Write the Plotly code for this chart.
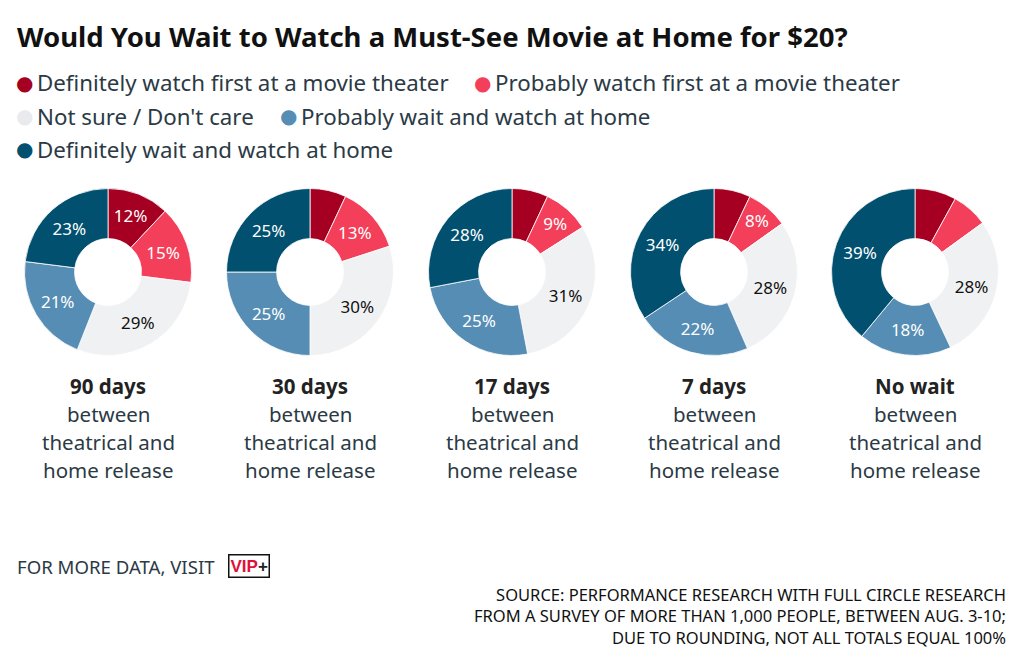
import plotly.graph_objects as go

# the page adds an 8px body margin; the figure is sized to fill the rest of the window
OFF = 8
W, H = 1016, 654
FONT = "Noto Sans"
TXT = "#2b3a45"

title = "Would You Wait to Watch a Must-See Movie at Home for $20?"
categories = ["Definitely watch first at a movie theater",
              "Probably watch first at a movie theater",
              "Not sure / Don't care",
              "Probably wait and watch at home",
              "Definitely wait and watch at home"]
colors = ["#a50022", "#f43f5a", "#f0f1f3", "#568db4", "#02506f"]
text_colors = ["white", "white", "#111111", "white", "white"]

groups = ["90 days", "30 days", "17 days", "7 days", "No wait"]
sub_lines = ["between", "theatrical and", "home release"]
v90 = [12, 15, 29, 21, 23]
v30 = [7, 13, 30, 25, 25]
v17 = [7, 9, 31, 25, 28]
v7 = [7, 8, 28, 22, 34]
v0 = [8, 7, 28, 18, 39]
values = [v90, v30, v17, v7, v0]
# which slices carry a printed label
shown = [[1, 1, 1, 1, 1], [0, 1, 1, 1, 1], [0, 1, 1, 1, 1], [0, 1, 1, 1, 1], [0, 0, 1, 1, 1]]

source = ["SOURCE: PERFORMANCE RESEARCH WITH FULL CIRCLE RESEARCH",
          "FROM A SURVEY OF MORE THAN 1,000 PEOPLE, BETWEEN AUG. 3-10;",
          "DUE TO ROUNDING, NOT ALL TOTALS EQUAL 100%"]


def px(x):
    return (x - OFF) / W


def py(y):
    return 1 - (y - OFF) / H


centers_x = [108, 310, 512, 714, 915]
cy = 272
R = 83.5

fig = go.Figure()
for i, vals in enumerate(values):
    cx = centers_x[i]
    texts = [f"{v}%" if s else "" for v, s in zip(vals, shown[i])]
    fig.add_trace(go.Pie(
        labels=categories, values=vals, text=texts, textinfo="text",
        sort=False, direction="clockwise", rotation=0, hole=0.4,
        marker=dict(colors=colors, line=dict(color="white", width=0.8)),
        textposition="inside", insidetextorientation="horizontal",
        textfont=dict(family=FONT, size=17, color=text_colors),
        domain=dict(x=[px(cx - R), px(cx + R)], y=[py(cy + R), py(cy - R)]),
        showlegend=False, hoverinfo="label+value",
    ))

ann = []
ann.append(dict(text=f"<b>{title}</b>", x=px(15), y=py(37), xanchor="left", yanchor="middle",
                font=dict(family=FONT, size=27.5, color="#111111")))

# legend
leg_pos = [(22, 83), (480, 83), (22, 116), (286, 116), (22, 149)]
for (lx, ly), cat, col in zip(leg_pos, categories, colors):
    ann.append(dict(text="●", x=px(lx - 8), y=py(ly), xanchor="left", yanchor="middle",
                    font=dict(family="DejaVu Sans", size=20, color=col if col != "#f0f1f3" else "#e9eaed")))
    ann.append(dict(text=cat, x=px(lx + 13), y=py(ly), xanchor="left", yanchor="middle",
                    font=dict(family=FONT, size=22.3, color=TXT)))

# group labels
for cx, g in zip(centers_x, groups):
    ann.append(dict(text=f"<b>{g}</b>", x=px(cx), y=py(386), xanchor="center", yanchor="middle",
                    font=dict(family=FONT, size=20.5, color="#222222")))
    for k, line in enumerate(sub_lines):
        ann.append(dict(text=line, x=px(cx), y=py(414 + 28 * k), xanchor="center", yanchor="middle",
                        font=dict(family=FONT, size=20.5, color=TXT)))

ann.append(dict(text="FOR MORE DATA, VISIT", x=px(15), y=py(566), xanchor="left", yanchor="middle",
                font=dict(family=FONT, size=18.6, color=TXT)))
ann.append(dict(text="<b><span style='color:#e0103a'>VIP</span>+</b>", x=px(228), y=py(566),
                xanchor="left", yanchor="middle", bordercolor="#111111", borderwidth=1.5, borderpad=1,
                font=dict(family="Liberation Sans Narrow, Liberation Sans", size=17, color="#222222")))
ann.append(dict(text="<br>".join(source), x=px(1008), y=py(616), xanchor="right", yanchor="middle",
                align="right", font=dict(family=FONT, size=16.5, color="#111111")))

for a in ann:
    a.update(xref="paper", yref="paper", showarrow=False)

fig.update_layout(width=W, height=H, margin=dict(l=0, r=0, t=0, b=0),
                  paper_bgcolor="white", plot_bgcolor="white", annotations=ann,
                  uniformtext=dict(minsize=10, mode="show"))
fig.write_html("out.html")
